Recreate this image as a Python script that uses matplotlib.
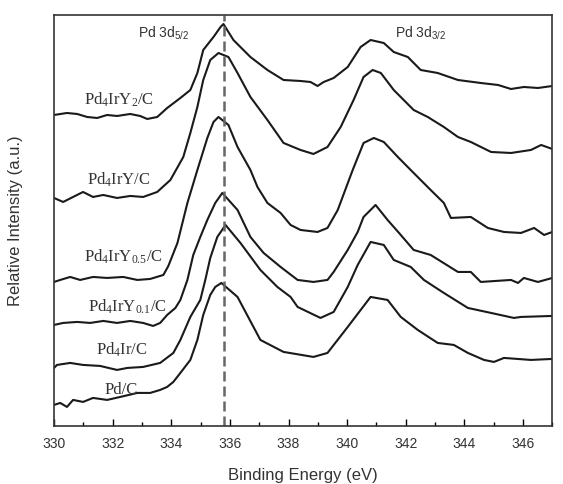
import numpy as np
import matplotlib
matplotlib.use("Agg")
import matplotlib.pyplot as plt
from matplotlib.ticker import MultipleLocator

# binding energy (eV) / relative intensity (a.u.)
e_y2 = [330.00, 330.44, 330.79, 331.13, 331.47, 331.81, 332.15, 332.60, 332.94, 333.18,
        333.52, 333.86, 334.31, 334.65, 334.89, 335.09, 335.44, 335.68, 335.78, 336.12,
        336.70, 337.28, 337.83, 338.41, 338.75, 338.99, 339.20, 339.54, 340.02, 340.46,
        340.80, 341.25, 341.59, 342.07, 342.51, 343.09, 343.78, 344.56, 345.15, 345.59,
        346.03, 346.51, 347.00]
i_y2 = [311, 313, 312, 309, 308, 311, 310, 312, 310, 307,
        309, 318, 328, 336, 353, 376, 389, 399, 402, 386,
        369, 356, 346, 345, 344, 340, 344, 348, 359, 379,
        386, 383, 374, 369, 356, 353, 346, 343, 341, 337,
        339, 338, 340]

e_y1 = [330.00, 330.31, 330.65, 330.99, 331.33, 331.68, 332.15, 332.60, 333.04, 333.52,
        333.97, 334.41, 334.65, 334.89, 335.09, 335.33, 335.61, 335.95, 336.26, 336.70,
        337.28, 337.83, 338.41, 338.85, 339.33, 339.78, 340.22, 340.56, 340.87, 341.15,
        341.59, 342.27, 342.75, 343.30, 343.78, 344.22, 344.91, 345.59, 346.27, 346.62,
        347.00]
i_y1 = [228, 224, 229, 234, 229, 231, 228, 230, 229, 234,
        246, 269, 293, 319, 346, 366, 373, 369, 353, 329,
        306, 283, 276, 272, 279, 299, 326, 349, 356, 353,
        336, 316, 309, 299, 289, 284, 274, 273, 276, 281,
        277]

e_y05 = [330.00, 330.21, 330.55, 330.89, 331.33, 331.81, 332.36, 332.84, 333.28, 333.73,
         333.90, 334.21, 334.55, 334.89, 335.23, 335.44, 335.61, 335.95, 336.26, 336.70,
         336.94, 337.28, 337.73, 338.07, 338.41, 338.99, 339.33, 339.68, 340.19, 340.56,
         340.91, 341.25, 341.73, 342.27, 342.85, 343.30, 343.54, 344.22, 344.80, 345.35,
         345.93, 346.38, 346.72, 347.00]
i_y05 = [144, 146, 149, 146, 149, 148, 149, 146, 147, 151,
         160, 183, 223, 256, 288, 304, 309, 301, 279, 256,
         239, 223, 213, 201, 196, 194, 198, 216, 256, 283,
         288, 284, 269, 253, 236, 223, 208, 209, 198, 194,
         193, 198, 191, 194]

e_y01 = [330.00, 330.31, 330.79, 331.23, 331.68, 332.15, 332.60, 333.04, 333.38, 333.62,
         333.86, 334.14, 334.31, 334.55, 334.75, 334.99, 335.23, 335.50, 335.74, 336.26,
         336.70, 337.15, 337.73, 338.31, 338.85, 339.33, 339.54, 340.02, 340.36, 340.56,
         340.97, 341.38, 341.83, 342.27, 342.85, 343.78, 344.22, 344.56, 345.59, 345.83,
         346.03, 346.51, 347.00]
i_y01 = [101, 103, 104, 103, 105, 103, 105, 103, 100, 103,
         111, 118, 126, 146, 171, 189, 206, 223, 233, 216,
         189, 173, 159, 146, 144, 146, 154, 176, 194, 209,
         221, 206, 191, 176, 171, 154, 154, 144, 146, 143,
         148, 144, 148]

e_ir = [330.00, 330.10, 330.55, 330.99, 331.57, 332.15, 332.50, 333.04, 333.62, 334.07,
        334.31, 334.65, 334.99, 335.16, 335.33, 335.57, 335.85, 336.36, 337.04, 337.62,
        338.07, 338.31, 339.09, 339.54, 340.02, 340.36, 340.80, 341.25, 341.59, 342.17,
        342.62, 343.30, 344.12, 344.91, 345.69, 345.93, 347.00]
i_ir = [58, 61, 63, 61, 60, 56, 58, 59, 63, 73,
        86, 109, 126, 146, 168, 189, 201, 183, 156, 139,
        129, 119, 108, 114, 139, 161, 184, 181, 166, 159,
        146, 133, 118, 113, 108, 109, 110]

e_pd = [330.00, 330.21, 330.44, 330.65, 330.99, 331.33, 331.81, 332.26, 332.84, 333.28,
        333.62, 333.86, 334.07, 334.31, 334.65, 334.89, 335.09, 335.33, 335.50, 335.71,
        336.26, 337.04, 337.83, 338.85, 339.33, 340.02, 340.80, 341.38, 341.83, 342.41,
        343.09, 343.64, 344.12, 344.67, 345.01, 345.35, 346.27, 347.00]
i_pd = [21, 23, 19, 26, 24, 28, 26, 29, 33, 33,
        36, 39, 44, 53, 66, 86, 111, 131, 139, 143,
        129, 86, 74, 69, 73, 99, 129, 126, 109, 96,
        83, 81, 73, 66, 64, 68, 66, 67]

series = [(e_y2, i_y2), (e_y1, i_y1), (e_y05, i_y05),
          (e_y01, i_y01), (e_ir, i_ir), (e_pd, i_pd)]
names = [r"Pd$_4$IrY$_2$/C", r"Pd$_4$IrY/C", r"Pd$_4$IrY$_{0.5}$/C",
         r"Pd$_4$IrY$_{0.1}$/C", r"Pd$_4$Ir/C", "Pd/C"]
# label anchor (eV, a.u.)
name_pos = [(332.2, 326), (332.2, 246), (332.35, 169), (332.5, 119), (332.3, 76), (332.3, 36)]
peak_line = 335.8

plt.rcParams['mathtext.fontset'] = 'custom'
plt.rcParams['mathtext.rm'] = 'Liberation Serif'
plt.rcParams['mathtext.it'] = 'Liberation Serif'
plt.rcParams['mathtext.sf'] = 'Liberation Sans'

fig = plt.figure(figsize=(5.63, 4.84), dpi=100)
ax = fig.add_axes([0.096, 0.12, 0.885, 0.849])

for (e, i) in series:
    ax.plot(e, i, color='#1a1a1a', lw=1.5)

ax.axvline(peak_line, color='#666666', lw=1.8, ls=(0, (4, 2)))

for n, (x, y) in zip(names, name_pos):
    ax.text(x, y, n, family='Liberation Serif', fontsize=12, color='#333333',
            ha='center', va='center')

ax.text(333.75, 393, r"Pd 3d$_{\mathsf{5/2}}$", family='Liberation Sans', fontsize=10,
        color='#333333', ha='center', va='center')
ax.text(342.5, 393, r"Pd 3d$_{\mathsf{3/2}}$", family='Liberation Sans', fontsize=10,
        color='#333333', ha='center', va='center')

ax.set_xlim(330, 347)
ax.set_ylim(0, 411)
ax.xaxis.set_major_locator(MultipleLocator(2))
ax.xaxis.set_minor_locator(MultipleLocator(1))
ax.set_yticks([])
ax.tick_params(axis='x', which='major', direction='in', length=5, width=1,
               labelsize=10, labelcolor='#333333', pad=8)
ax.tick_params(axis='x', which='minor', direction='in', length=3, width=1)
for lab in ax.get_xticklabels():
    lab.set_family('Liberation Sans')
for s in ax.spines.values():
    s.set_linewidth(1.2)
    s.set_color('#333333')

ax.set_xlabel("Binding Energy (eV)", family='Liberation Sans', fontsize=12,
              color='#333333', labelpad=12)
ax.set_ylabel("Relative Intensity (a.u.)", family='Liberation Sans', fontsize=12,
              color='#333333', labelpad=22)

fig.savefig("out.png", dpi=100)
